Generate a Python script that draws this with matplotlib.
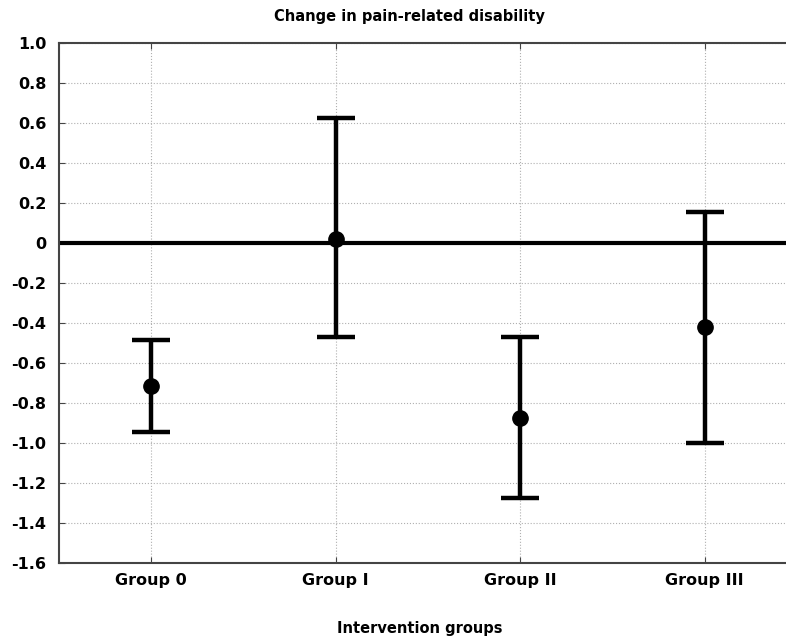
import matplotlib
matplotlib.use("Agg")
import matplotlib.pyplot as plt
import numpy as np

groups = ["Group 0", "Group I", "Group II", "Group III"]
means = [-0.716, 0.018, -0.875, -0.42]
upper = [-0.485, 0.627, -0.47, 0.157]
lower = [-0.945, -0.47, -1.275, -0.998]

plt.rcParams["font.family"] = ["DejaVu Sans"]
plt.rcParams["font.weight"] = "bold"

x = np.arange(len(groups))
means = np.array(means)
err = np.array([means - np.array(lower), np.array(upper) - means])

fig = plt.figure(figsize=(7.86, 6.41), dpi=100)
ax = fig.add_axes([59 / 786, 78 / 641, 1 - 59 / 786, (563 - 43) / 641])

ax.axhline(0, color="black", lw=3, zorder=2)
ax.errorbar(x, means, yerr=err, fmt="o", color="black", ms=11, lw=3.2,
            capsize=14, capthick=3.2, zorder=3)

ax.set_xlim(-0.5, 3.44)
ax.set_ylim(-1.6, 1.0)
ax.set_yticks(np.arange(-1.6, 1.01, 0.2))
ax.set_yticklabels(["-1.6", "-1.4", "-1.2", "-1.0", "-0.8", "-0.6", "-0.4", "-0.2",
                    "0", "0.2", "0.4", "0.6", "0.8", "1.0"])
ax.set_xticks(x)
ax.set_xticklabels(groups)
ax.tick_params(axis="y", direction="in", length=4, labelsize=11.5, pad=9, color="#444444")
ax.tick_params(axis="x", direction="in", length=4, labelsize=11.5, pad=7, color="#444444",
               top=True)
ax.grid(True, color="#b0b0b0", linestyle=":", lw=0.8, zorder=0)
ax.set_axisbelow(True)

for side in ["left", "bottom", "top"]:
    ax.spines[side].set_color("#444444")
    ax.spines[side].set_linewidth(1.5)
ax.spines["right"].set_visible(False)

fig.text(409 / 786, 1 - 17 / 641, "Change in pain-related disability", ha="center", va="center",
         fontsize=10.5, fontweight="bold")
fig.text(420 / 786, 1 - 628 / 641, "Intervention groups", ha="center", va="center",
         fontsize=10.5, fontweight="bold")

fig.savefig("out.png", dpi=100)
